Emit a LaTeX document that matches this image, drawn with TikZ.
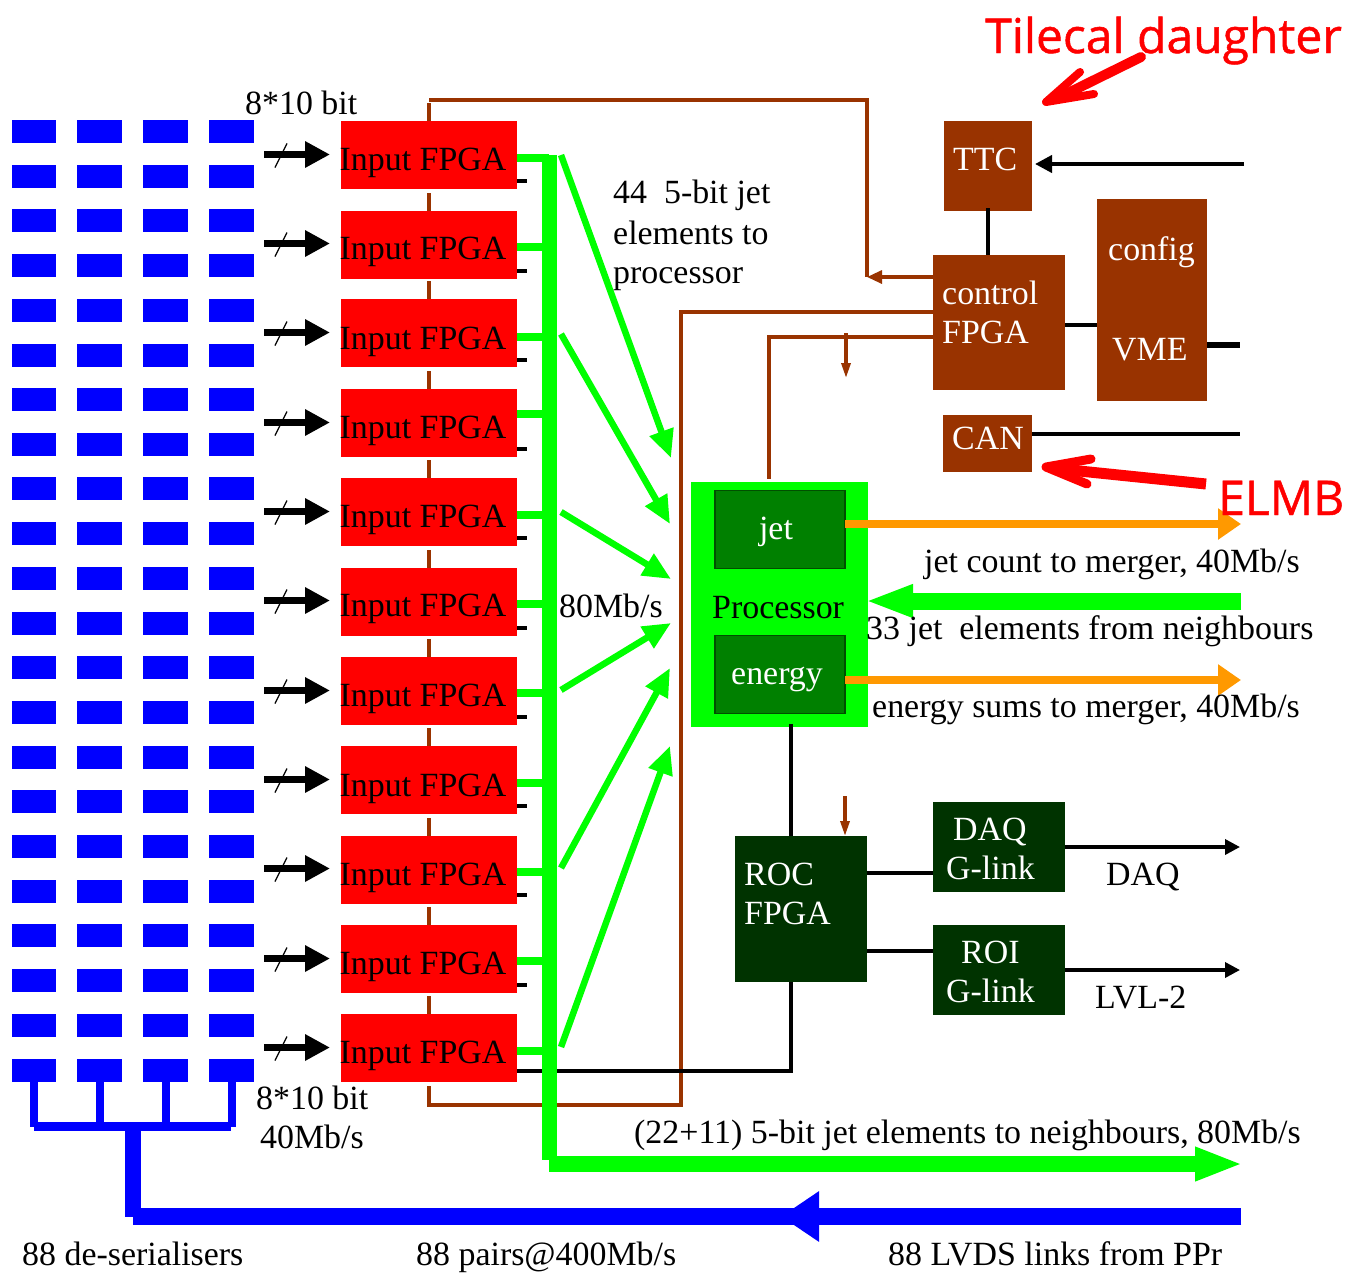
\documentclass[tikz,border=0pt]{standalone}
\usepackage{fontspec}
\setmainfont{Liberation Serif}
\newfontfamily\handfont[FakeBold=1]{Open Sans}
\usetikzlibrary{arrows.meta}
\definecolor{brn}{HTML}{993300}
\definecolor{dkg}{HTML}{003300}
\definecolor{midg}{HTML}{008000}
\definecolor{edgeg}{HTML}{004F00}
\definecolor{grn}{HTML}{00FF00}
\definecolor{org}{HTML}{FF9900}
\definecolor{blu}{HTML}{0000FF}
\definecolor{rd}{HTML}{FF0000}
\tikzset{
  txt/.style={anchor=base west,inner sep=0pt,font=\fontsize{33.9}{40}\selectfont},
  wtxt/.style={txt,text=white},
  ctxt/.style={anchor=base,inner sep=0pt,font=\fontsize{33.9}{40}\selectfont,text=white},
  hand/.style={anchor=base west,inner sep=0pt,text=rd,font=\fontsize{48}{55}\selectfont\handfont},
  boxn/.style={anchor=north west,inner sep=0pt,outer sep=0pt,draw=none},
  desbox/.style={boxn,fill=blu,minimum width=45pt,minimum height=23pt},
  fpgabox/.style={boxn,fill=rd,minimum width=176pt,minimum height=68pt},
  brnbox/.style={boxn,fill=brn},
  dkbox/.style={boxn,fill=dkg},
  subbox/.style={anchor=north west,inner sep=0pt,outer sep=0pt,fill=midg,draw=edgeg,line width=1.2pt,minimum width=130pt,minimum height=78pt},
  brnline/.style={draw=brn,line width=3.6pt},
  blkline/.style={draw=black,line width=4pt},
  gstub/.style={draw=grn,line width=8pt},
  gdiag/.style={draw=grn,line width=6.5pt,-{Triangle[length=28pt,width=24pt]}},
  inarrow/.style={draw=black,line width=7pt,-{Triangle[length=25pt,width=25pt]}},
  smallblk/.style={draw=black,line width=3.5pt,-{Triangle[length=15pt,width=15pt]}},
  smallbrn/.style={draw=brn,line width=3.2pt,-{Triangle[length=15pt,width=9pt]}},
  orgarrow/.style={draw=org,line width=8pt,-{Triangle[length=23pt,width=30pt]}},
  redline/.style={draw=rd,line cap=round,line join=round},
}
\begin{document}
\begin{tikzpicture}[x=1pt,y=-1pt]
\useasboundingbox (0,0) rectangle (1348,1274);

% de-serialisers
\foreach \r/\t in {1/120,2/165,3/209,4/254,5/299,6/344,7/388,8/433,9/477,10/522,11/567,12/612,13/656,14/701,15/746,16/790,17/835,18/880,19/924,20/969,21/1014,22/1059}{
  \foreach \c/\x/\w in {1/12/44,2/77/45,3/143/45,4/209/45}{
    \node[desbox,minimum width=\w pt] (des-\r-\c) at (\x,\t) {};
  }
}
% blue bus
\coordinate (bh1) at (34,1126.5);
\coordinate (bh2) at (231,1126.5);
\coordinate (bj) at (133,1126.5);
\coordinate (bc) at (133,1216.5);
\coordinate (lvds) at (1241,1216.5);
\foreach \c in {1,2,3,4}{
  \draw[draw=blu,line width=8pt] (des-22-\c.south) -- (des-22-\c.south |- bh1);
}
\draw[draw=blu,line width=9pt] (bh1) -- (bh2);
\draw[draw=blu,line width=16pt] (bj) -- (bc);
\draw[draw=blu,line width=17pt,-{Triangle[length=38pt,width=48pt]}] (lvds) -- (781,1216.5);
\draw[draw=blu,line width=17pt] (lvds) -- (bc);

% boxes on the right
\node[brnbox,minimum width=88pt,minimum height=90pt] (ttc) at (944,121) {};
\node[brnbox,minimum width=132pt,minimum height=135pt] (ctrl) at (933,255) {};
\node[brnbox,minimum width=110pt,minimum height=202pt] (vme) at (1097,199) {};
\node[brnbox,minimum width=89pt,minimum height=57pt] (can) at (943,415) {};
\node[dkbox,minimum width=132pt,minimum height=146pt] (roc) at (735,836) {};
\node[dkbox,minimum width=132pt,minimum height=90pt] (daq) at (933,802) {};
\node[dkbox,minimum width=132pt,minimum height=90pt] (roi) at (933,925) {};
\node[boxn,fill=grn,minimum width=177pt,minimum height=245pt] (proc) at (691,482) {};
\node[subbox] (jet) at (715,490.5) {};
\node[subbox] (energy) at (715,635.5) {};

% input FPGAs
\foreach \i/\t in {1/121,2/211,3/299,4/389,5/478,6/568,7/657,8/746,9/836,10/925,11/1014}{
  \node[fpgabox] (fpga\i) at (341,\t) {};
}

% brown control lines
\coordinate (tl) at (429,100);
\coordinate (tr) at (867,100);
\coordinate (tb) at (867,277);
\coordinate (bl) at (429,1105);
\coordinate (br) at (681,1105);
\coordinate (bt) at (681,312);
\coordinate (pl) at (769,337);
\draw[brnline] (fpga1.north) -- ++(0,-18);
\foreach \j in {2,...,11}{
  \draw[brnline] (fpga\j.north) -- ++(0,-18);
}
\draw[brnline] (tl) -- (tr) -- (tb);
\draw[smallbrn,-{Triangle[length=15pt,width=13pt]}] (ctrl.west |- tb) -- (tb);
\draw[brnline] (ctrl.west |- bt) -- (bt) -- (br) -- (bl) -- ++(0,-19);
\draw[brnline] (ctrl.west |- pl) -- (pl) -- ([yshift=3pt]pl |- proc.north);
\coordinate (a1) at (846,333);
\coordinate (a2) at (846,378);
\draw[smallbrn] (a1) -- (a2);
\coordinate (a3) at (845,796);
\draw[smallbrn] (a3) -- (a3 |- roc.north);

% black connectors
\foreach \i/\b in {1/181,2/271,3/360,4/449,5/538,6/628,7/717,8/806,9/895,10/985}{
  \draw[draw=black,line width=4pt] (fpga\i.east |- 0,\b) -- ++(10,0);
}
\coordinate (rb) at (791,1071);
\draw[draw=black,line width=4pt] (fpga11.east |- rb) -- (rb) -- (rb |- roc.south);
\draw[draw=black,line width=3.5pt] ([yshift=3pt]rb |- proc.south) -- (rb |- roc.north);
\draw[blkline] (roc.east |- 0,873) -- (daq.west |- 0,873);
\draw[blkline] (roc.east |- 0,951) -- (roi.west |- 0,951);
\coordinate (daqend) at (1240,847);
\coordinate (roiend) at (1240,970);
\draw[smallblk] (daq.east |- daqend) -- (daqend);
\draw[smallblk] (roi.east |- roiend) -- (roiend);
\coordinate (ttcin) at (1244,164);
\draw[draw=black,line width=4pt,-{Triangle[length=17pt,width=17pt]}] (ttcin) -- ([xshift=3pt]ttc.east |- ttcin);
\draw[blkline] ([yshift=3pt]ttc.south -| 988,0) -- (ctrl.north -| 988,0);
\draw[blkline] (ctrl.east |- 0,325) -- (vme.west |- 0,325);
\coordinate (vmeend) at (1240,345);
\draw[draw=black,line width=6pt] (vme.east |- vmeend) -- (vmeend);
\coordinate (canend) at (1240,434);
\draw[blkline] (can.east |- canend) -- (canend);

% input arrows
\foreach \i/\a in {1/154.5,2/243.5,3/332.5,4/422.5,5/511.5,6/600.5,7/690.5,8/779.5,9/868.5,10/958.5,11/1047.5}{
  \draw[inarrow] (264,\a) -- ([xshift=-11pt]fpga\i.west |- 0,\a);
  \draw[draw=black,line width=1.3pt] (275,\a+13) -- (287,\a-11);
}

% green bus
\coordinate (gbt) at (549,155);
\coordinate (gbb) at (549,1160);
\coordinate (gbe) at (549,1164);
\coordinate (gout) at (1243,1164);
\foreach \i/\g in {1/158,2/247,3/337,4/414,5/515,6/604,7/693,8/783,9/872,10/961,11/1051}{
  \draw[gstub] (fpga\i.east |- 0,\g) -- (gbt |- 0,\g);
}
\draw[draw=grn,line width=15pt] (gbt) -- (gbb);
\draw[draw=grn,line width=16pt,-{Triangle[length=48pt,width=31pt]}] (gbe) -- (gout);

% green arrows to processor
\draw[gdiag] (561,155) -- (671,458);
\draw[gdiag] (561,334) -- (670,524);
\draw[gdiag] (561,512) -- (671,579);
\draw[gdiag] (561,690) -- (671,623);
\draw[gdiag] (561,868) -- (670,668);
\draw[gdiag] (561,1047) -- (670,746);

% outputs of the processor
\coordinate (j2) at (1241,524);
\coordinate (e2) at (1241,680);
\coordinate (n1) at (1241,601);
\draw[orgarrow] (jet.east |- j2) -- (j2);
\draw[orgarrow] (energy.east |- e2) -- (e2);
\draw[draw=grn,line width=17pt,-{Triangle[length=48pt,width=30pt]}] (n1) -- ([xshift=-3pt]proc.east |- n1);

% hand-drawn red arrows
\coordinate (ta) at (1141,57);
\coordinate (tip) at (1046,102);
\draw[redline,line width=10pt] (ta) -- (1062,96);
\draw[redline,line width=8pt] (1080,72) -- (tip) -- (1094,94);
\coordinate (ea) at (1206,484);
\coordinate (eip) at (1046,467);
\draw[redline,line cap=butt,line width=11pt] (ea) -- (1060,469);
\draw[redline,line width=9pt] (1091,459) -- (eip) -- (1087,484);

% texts
\foreach \i/\b in {1/170,2/259,3/349,4/438,5/527,6/616,7/706,8/796,9/885,10/974,11/1063}{
  \node[txt] (t\i) at (339.5,\b) {Input FPGA};
}
\node[txt] (l1) at (245,114) {8*10 bit};
\node[txt] (l2) at (613,203) {44\ \ 5-bit jet};
\node[txt] (l3) at (613,244) {elements to};
\node[txt] (l4) at (613,283) {processor};
\node[txt] (l5) at (559,617) {80Mb/s};
\node[txt] (l6) at (924,572) {jet count to merger, 40Mb/s};
\node[txt] (l7) at (866,639) {33 jet\ \ elements from neighbours};
\node[txt] (l8) at (872,717) {energy sums to merger, 40Mb/s};
\node[txt] (l9) at (712,618) {Processor};
\node[ctxt] (l10) at (776,539) {jet};
\node[ctxt] (l11) at (777,684) {energy};
\node[wtxt] (l12) at (953,170) {TTC};
\node[wtxt] (l13) at (942,304) {control};
\node[wtxt] (l14) at (942,343) {FPGA};
\node[wtxt] (l15) at (1108,260) {config};
\node[wtxt] (l16) at (1112,360) {VME};
\node[wtxt] (l17) at (952,449) {CAN};
\node[wtxt] (l18) at (744,885) {ROC};
\node[wtxt] (l19) at (744,924) {FPGA};
\node[wtxt] (l20) at (953,840) {DAQ};
\node[wtxt] (l21) at (946,879) {G-link};
\node[wtxt] (l22) at (961,963) {ROI};
\node[wtxt] (l23) at (946,1002) {G-link};
\node[txt] (l24) at (1106,885) {DAQ};
\node[txt] (l25) at (1095,1008) {LVL-2};
\node[txt] (l26) at (256,1109) {8*10 bit};
\node[txt] (l27) at (260,1148) {40Mb/s};
\node[txt] (l28) at (634,1143) {(22+11) 5-bit jet elements to neighbours, 80Mb/s};
\node[txt] (l29) at (22,1265) {88 de-serialisers};
\node[txt] (l30) at (416,1265) {88 pairs@400Mb/s};
\node[txt] (l31) at (888,1265) {88 LVDS links from PPr};
\node[hand] (h1) at (985,53) {Tilecal daughter};
\node[hand] (h2) at (1218,515) {ELMB};
\end{tikzpicture}
\end{document}
